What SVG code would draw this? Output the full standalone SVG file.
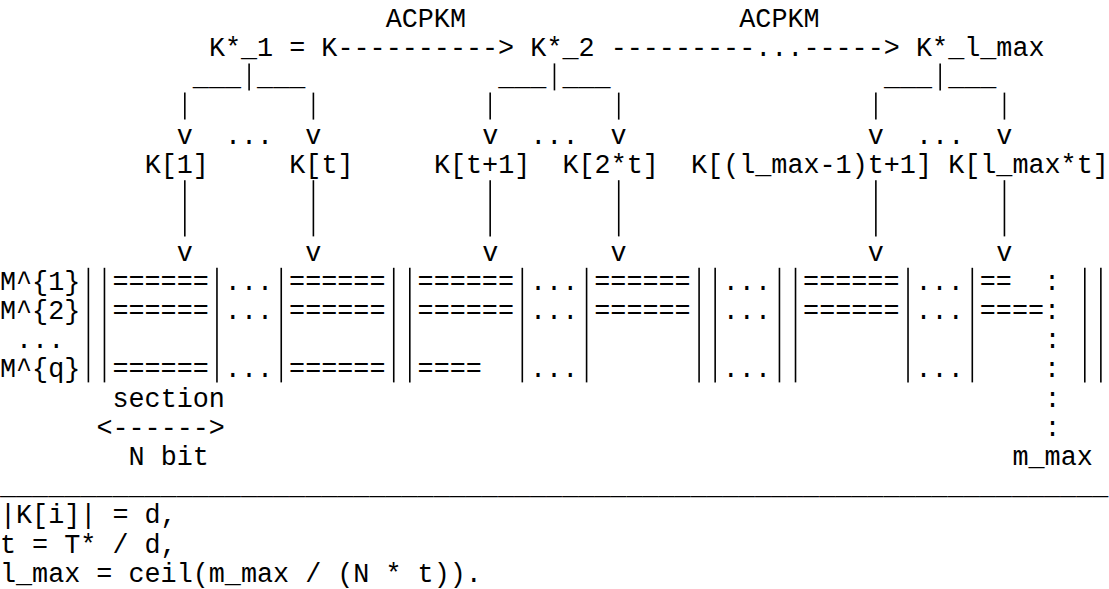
<svg xmlns="http://www.w3.org/2000/svg" width="1109" height="589" viewBox="0 0 1109 589" xml:space="preserve">
<style>
text { font-family: 'Liberation Mono', 'Courier New', monospace; font-size: 26.78px; fill: #000; white-space: pre; }
.bar { stroke: #000; stroke-width: 1.6; fill: none; }
</style>
<rect x="0" y="0" width="1109" height="589" fill="#fff"/>
<g id="connectors">
  <text x="385.70" y="27">ACPKM</text>
  <text x="739.27" y="27">ACPKM</text>
  <text x="337.49" y="56.2">----------&gt;</text>
  <text x="610.70" y="56.2">---------...-----&gt;</text>
  <text x="192.85" y="85.4">___ ___</text>
  <text x="498.20" y="85.4">___ ___</text>
  <text x="883.91" y="85.4">___ ___</text>
  <g class="bar">
    <line x1="249.11" y1="63.4" x2="249.11" y2="90.4"/>
    <line x1="554.46" y1="63.4" x2="554.46" y2="90.4"/>
    <line x1="940.16" y1="63.4" x2="940.16" y2="90.4"/>
    <line x1="184.82" y1="92.6" x2="184.82" y2="119.6"/>
    <line x1="313.39" y1="92.6" x2="313.39" y2="119.6"/>
    <line x1="490.17" y1="92.6" x2="490.17" y2="119.6"/>
    <line x1="618.73" y1="92.6" x2="618.73" y2="119.6"/>
    <line x1="875.87" y1="92.6" x2="875.87" y2="119.6"/>
    <line x1="1004.44" y1="92.6" x2="1004.44" y2="119.6"/>
    <line x1="184.82" y1="180.2" x2="184.82" y2="236.4"/>
    <line x1="313.39" y1="180.2" x2="313.39" y2="236.4"/>
    <line x1="490.17" y1="180.2" x2="490.17" y2="236.4"/>
    <line x1="618.73" y1="180.2" x2="618.73" y2="236.4"/>
    <line x1="875.87" y1="180.2" x2="875.87" y2="236.4"/>
    <line x1="1004.44" y1="180.2" x2="1004.44" y2="236.4"/>
  </g>
  <text x="176.78" y="143.8">v  ...  v</text>
  <text x="482.13" y="143.8">v  ...  v</text>
  <text x="867.83" y="143.8">v  ...  v</text>
  <text x="176.78" y="260.6">v       v</text>
  <text x="482.13" y="260.6">v       v</text>
  <text x="867.83" y="260.6">v       v</text>
</g>
<g id="node-k1"><text x="208.92" y="56.2">K*_1 = K</text></g>
<g id="node-k2"><text x="530.34" y="56.2">K*_2</text></g>
<g id="node-klmax"><text x="916.05" y="56.2">K*_l_max</text></g>
<g id="node-key-1"><text x="144.64" y="173">K[1]</text></g>
<g id="node-key-t"><text x="289.28" y="173">K[t]</text></g>
<g id="node-key-t1"><text x="433.92" y="173">K[t+1]</text></g>
<g id="node-key-2t"><text x="562.49" y="173">K[2*t]</text></g>
<g id="node-key-lt1"><text x="691.05" y="173">K[(l_max-1)t+1]</text></g>
<g id="node-key-lt"><text x="948.19" y="173">K[l_max*t]</text></g>
<g id="node-messages">
  <g class="bar">
    <line x1="88.39" y1="267.8" x2="88.39" y2="382.4"/>
    <line x1="104.46" y1="267.8" x2="104.46" y2="382.4"/>
    <line x1="216.96" y1="267.8" x2="216.96" y2="382.4"/>
    <line x1="281.24" y1="267.8" x2="281.24" y2="382.4"/>
    <line x1="393.74" y1="267.8" x2="393.74" y2="382.4"/>
    <line x1="409.81" y1="267.8" x2="409.81" y2="382.4"/>
    <line x1="522.31" y1="267.8" x2="522.31" y2="382.4"/>
    <line x1="586.59" y1="267.8" x2="586.59" y2="382.4"/>
    <line x1="699.09" y1="267.8" x2="699.09" y2="382.4"/>
    <line x1="715.16" y1="267.8" x2="715.16" y2="382.4"/>
    <line x1="779.45" y1="267.8" x2="779.45" y2="382.4"/>
    <line x1="795.52" y1="267.8" x2="795.52" y2="382.4"/>
    <line x1="908.02" y1="267.8" x2="908.02" y2="382.4"/>
    <line x1="972.30" y1="267.8" x2="972.30" y2="382.4"/>
    <line x1="1084.80" y1="267.8" x2="1084.80" y2="382.4"/>
    <line x1="1100.87" y1="267.8" x2="1100.87" y2="382.4"/>
  </g>
  <text x="0" y="289.8">M^{1}  ====== ... ======  ====== ... ======  ...  ====== ... ==  :</text>
  <text x="0" y="319">M^{2}  ====== ... ======  ====== ... ======  ...  ====== ... ====:</text>
  <text x="0" y="348.2"> ...</text>
  <text x="1044.62" y="348.2">:</text>
  <text x="0" y="377.4">M^{q}  ====== ... ======  ====   ...         ...         ...     :</text>
  <text x="1044.62" y="406.6">:</text>
  <text x="1044.62" y="435.8">:</text>
  <text x="1012.47" y="465">m_max</text>
</g>
<g id="node-section">
  <text x="112.50" y="406.6">section</text>
  <text x="96.43" y="435.8">&lt;------&gt;</text>
  <text x="128.57" y="465">N bit</text>
</g>
<g id="node-legend">
  <text x="0" y="494.2">_____________________________________________________________________</text>
  <text x="0" y="523.4">|K[i]| = d,</text>
  <text x="0" y="552.6">t = T* / d,</text>
  <text x="0" y="581.8">l_max = ceil(m_max / (N * t)).</text>
</g>
</svg>
